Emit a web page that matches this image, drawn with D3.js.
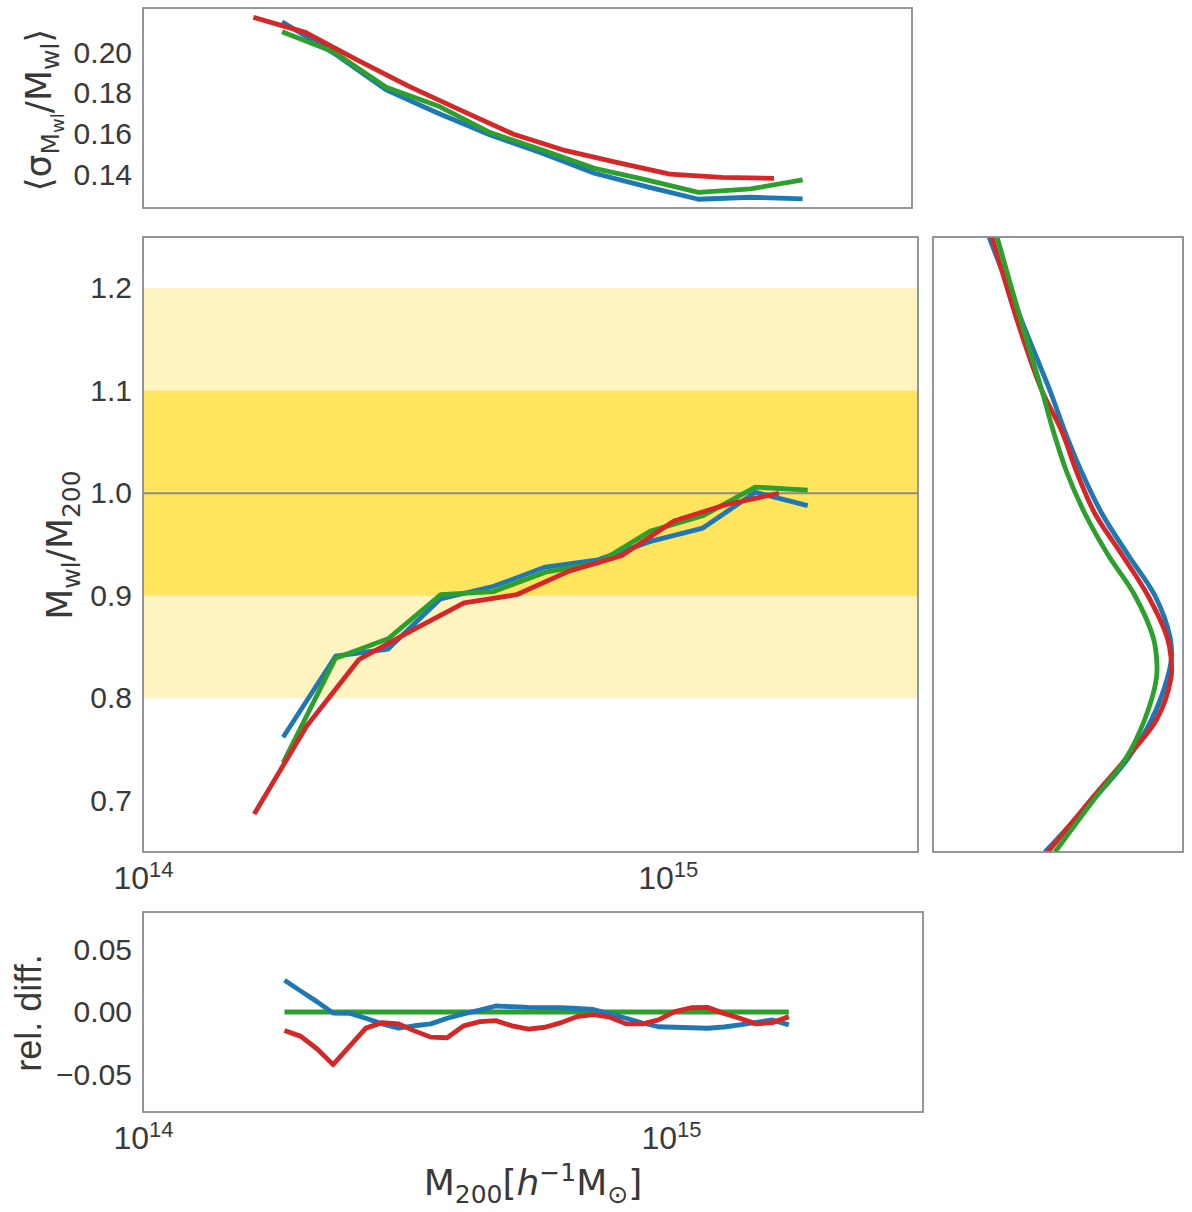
<!DOCTYPE html>
<html>
<head>
<meta charset="utf-8">
<script src="https://cdn.jsdelivr.net/npm/d3@7"></script>
<style>
  body { margin: 0; background: #fff; }
  text { fill: #393939; }
</style>
</head>
<body>
<svg id="chart" width="1192" height="1212"></svg>
<script>
// ---- data ----
// bin centres, log10(M200 / h^-1 Msun)
const logMBlueGreen = [14.267, 14.367, 14.467, 14.567, 14.667, 14.767, 14.867, 14.967, 15.067, 15.167, 15.267];
const logMRed       = [14.212, 14.312, 14.412, 14.512, 14.612, 14.712, 14.812, 14.912, 15.012, 15.112, 15.212];

// mean Mwl/M200
const ratioBlue  = [0.762, 0.841, 0.848, 0.897, 0.909, 0.928, 0.935, 0.953, 0.966, 1.001, 0.988];
const ratioGreen = [0.737, 0.839, 0.858, 0.901, 0.904, 0.923, 0.932, 0.963, 0.978, 1.006, 1.003];
const ratioRed   = [0.687, 0.773, 0.838, 0.866, 0.893, 0.901, 0.924, 0.939, 0.973, 0.989, 1.000];

// <sigma_Mwl / Mwl>
const scatBlue  = [0.2151, 0.1996, 0.1816, 0.1701, 0.1594, 0.1504, 0.1406, 0.1340, 0.1278, 0.1288, 0.1280];
const scatGreen = [0.2102, 0.2002, 0.1829, 0.1737, 0.1606, 0.1520, 0.1430, 0.1373, 0.1312, 0.1329, 0.1373];
const scatRed   = [0.2173, 0.2099, 0.1963, 0.1832, 0.1714, 0.1598, 0.1517, 0.1458, 0.1402, 0.1386, 0.1381];

// relative difference (w.r.t. green) on a finer grid
const logMRel = [14.268, 14.299, 14.330, 14.360, 14.391, 14.422, 14.453, 14.484, 14.514, 14.545,
                 14.576, 14.607, 14.638, 14.668, 14.699, 14.730, 14.761, 14.792, 14.822, 14.853,
                 14.884, 14.915, 14.946, 14.976, 15.007, 15.038, 15.069, 15.100, 15.130, 15.161,
                 15.192, 15.223];
const relBlue = [0.0254, 0.0167, 0.0081, -0.0008, -0.0010, -0.0050, -0.0095, -0.0129, -0.0110, -0.0095,
                 -0.0050, -0.0015, 0.0015, 0.0048, 0.0042, 0.0037, 0.0035, 0.0034, 0.0028, 0.0020,
                 -0.0015, -0.0050, -0.0088, -0.0118, -0.0122, -0.0126, -0.0130, -0.0120, -0.0103, -0.0083,
                 -0.0064, -0.0103];
const relRed  = [-0.0148, -0.0195, -0.0296, -0.0421, -0.0275, -0.0129, -0.0085, -0.0095, -0.0151, -0.0201,
                 -0.0206, -0.0111, -0.0077, -0.0069, -0.0111, -0.0137, -0.0122, -0.0085, -0.0037, -0.0021,
                 -0.0042, -0.0095, -0.0095, -0.0063, 0.0003, 0.0034, 0.0037, -0.0011, -0.0050, -0.0095,
                 -0.0085, -0.0037];
const relGreen = [0, 0, 0, 0, 0, 0, 0, 0, 0, 0, 0, 0, 0, 0, 0, 0,
                  0, 0, 0, 0, 0, 0, 0, 0, 0, 0, 0, 0, 0, 0, 0, 0];

// distribution of Mwl/M200 (side panel)
const kdeGrid  = [1.25, 1.16, 1.10, 1.06, 1.02, 0.98, 0.94, 0.90, 0.86, 0.84, 0.82, 0.78, 0.74, 0.70, 0.65];
const kdeBlue  = [1.12, 1.84, 2.34, 2.64, 2.98, 3.38, 3.90, 4.44, 4.74, 4.77, 4.69, 4.38, 3.88, 3.18, 2.24];
const kdeRed   = [1.18, 1.74, 2.18, 2.58, 2.88, 3.24, 3.78, 4.30, 4.68, 4.76, 4.76, 4.48, 3.84, 3.14, 2.30];
const kdeGreen = [1.28, 1.81, 2.18, 2.41, 2.68, 3.04, 3.50, 4.04, 4.40, 4.47, 4.47, 4.24, 3.84, 3.20, 2.44];

const mainTicks = [0.7, 0.8, 0.9, 1.0, 1.1, 1.2];
const scatTicks = [0.14, 0.16, 0.18, 0.20];
const relTicks  = [-0.05, 0, 0.05];
const massTicks = [1e14, 1e15];
const innerBand = [0.9, 1.1];
const outerBand = [0.8, 1.2];

const BLUE = "#1f77b4", GREEN = "#2ca02c", RED = "#d62728";
const SPINE = "#878b93";
const LW = 4.8;
const TICKFONT = "'Liberation Sans', Arial, sans-serif";
const MATHFONT = "'DejaVu Sans', sans-serif";

const svg = d3.select("#chart");

// panel boxes
const pTop  = {x0: 143, x1: 912,  y0: 8,   y1: 208};
const pMain = {x0: 143, x1: 918,  y0: 237, y1: 852};
const pSide = {x0: 933, x1: 1183, y0: 237, y1: 852};
const pBot  = {x0: 143, x1: 923,  y0: 912, y1: 1112};

const xTop  = d3.scaleLog().domain([1e14, 3e15]).range([pTop.x0, pTop.x1]);
const xMain = d3.scaleLog().domain([1e14, 3e15]).range([pMain.x0, pMain.x1]);
const xBot  = d3.scaleLog().domain([1e14, 3e15]).range([pBot.x0, pBot.x1]);
const yTop  = d3.scaleLinear().domain([0.1235, 0.2219]).range([pTop.y1, pTop.y0]);
const yMain = d3.scaleLinear().domain([0.65, 1.25]).range([pMain.y1, pMain.y0]);
const yBot  = d3.scaleLinear().domain([-0.08, 0.08]).range([pBot.y1, pBot.y0]);
const xSide = d3.scaleLinear().domain([0, 5]).range([pSide.x0, pSide.x1]);

function clip(id, b) {
  svg.append("clipPath").attr("id", id)
    .append("rect").attr("x", b.x0).attr("y", b.y0)
    .attr("width", b.x1 - b.x0).attr("height", b.y1 - b.y0);
}
clip("c-top", pTop); clip("c-main", pMain); clip("c-side", pSide); clip("c-bot", pBot);

function spine(b) {
  svg.append("rect").attr("x", b.x0).attr("y", b.y0)
    .attr("width", b.x1 - b.x0).attr("height", b.y1 - b.y0)
    .attr("fill", "none").attr("stroke", SPINE).attr("stroke-width", 1.8);
}

function yAxis(scale, b, ticks, fmt) {
  const g = svg.append("g").attr("transform", `translate(${b.x0},0)`)
    .call(d3.axisLeft(scale).tickValues(ticks).tickSize(0).tickPadding(11).tickFormat(fmt));
  g.select(".domain").remove();
  g.selectAll("text").style("font-family", TICKFONT).style("font-size", "30px").attr("fill", "#393939");
}

function xAxis(scale, b) {
  const g = svg.append("g").attr("transform", `translate(0,${b.y1})`)
    .call(d3.axisBottom(scale).tickValues(massTicks).tickSize(0).tickPadding(14).tickFormat(""));
  g.select(".domain").remove();
  g.selectAll("text")
    .style("font-family", TICKFONT).style("font-size", "32px").attr("fill", "#393939")
    .each(function(d) {
      const t = d3.select(this);
      t.append("tspan").text("10");
      t.append("tspan").attr("dy", -12).style("font-size", "22px").text(Math.round(Math.log10(d)));
    });
}

function line(xs, ys, xScale, yScale, color, clipId) {
  const pts = xs.map((v, i) => [v, ys[i]]);
  svg.append("path").datum(pts)
    .attr("clip-path", `url(#${clipId})`)
    .attr("fill", "none").attr("stroke", color).attr("stroke-width", LW)
    .attr("stroke-linejoin", "round")
    .attr("d", d3.line().x(d => xScale(Math.pow(10, d[0]))).y(d => yScale(d[1])));
}

// ---- top panel: scatter ----
line(logMBlueGreen, scatBlue, xTop, yTop, BLUE, "c-top");
line(logMBlueGreen, scatGreen, xTop, yTop, GREEN, "c-top");
line(logMRed, scatRed, xTop, yTop, RED, "c-top");
yAxis(yTop, pTop, scatTicks, d3.format(".2f"));
spine(pTop);

// ---- main panel ----
svg.append("rect").attr("x", pMain.x0).attr("width", pMain.x1 - pMain.x0)
  .attr("y", yMain(outerBand[1])).attr("height", yMain(outerBand[0]) - yMain(outerBand[1]))
  .attr("fill", "#fff3bf");
svg.append("rect").attr("x", pMain.x0).attr("width", pMain.x1 - pMain.x0)
  .attr("y", yMain(innerBand[1])).attr("height", yMain(innerBand[0]) - yMain(innerBand[1]))
  .attr("fill", "#ffe45e");
svg.append("line").attr("x1", pMain.x0).attr("x2", pMain.x1)
  .attr("y1", yMain(1)).attr("y2", yMain(1))
  .attr("stroke", "#8c8c8c").attr("stroke-width", 1.8);
line(logMBlueGreen, ratioBlue, xMain, yMain, BLUE, "c-main");
line(logMBlueGreen, ratioGreen, xMain, yMain, GREEN, "c-main");
line(logMRed, ratioRed, xMain, yMain, RED, "c-main");
yAxis(yMain, pMain, mainTicks, d3.format(".1f"));
xAxis(xMain, pMain);
spine(pMain);

// ---- side panel: distributions ----
[[kdeBlue, BLUE], [kdeRed, RED], [kdeGreen, GREEN]].forEach(([dens, color]) => {
  const pts = kdeGrid.map((v, i) => [dens[i], v]);
  svg.append("path").datum(pts)
    .attr("clip-path", "url(#c-side)")
    .attr("fill", "none").attr("stroke", color).attr("stroke-width", LW)
    .attr("d", d3.line().curve(d3.curveCatmullRom.alpha(0.5)).x(d => xSide(d[0])).y(d => yMain(d[1])));
});
spine(pSide);

// ---- bottom panel: relative difference ----
line(logMRel, relGreen, xBot, yBot, GREEN, "c-bot");
line(logMRel, relBlue, xBot, yBot, BLUE, "c-bot");
line(logMRel, relRed, xBot, yBot, RED, "c-bot");
yAxis(yBot, pBot, relTicks, d => d === 0 ? "0.00" : d3.format(".2f")(d).replace("-", "\u2212"));
xAxis(xBot, pBot);
spine(pBot);

// ---- axis labels ----
const LSIZE = 36, SUB = 25;
function mathLabel(x, y, rot, parts, family) {
  const t = svg.append("text")
    .attr("transform", `translate(${x},${y}) rotate(${rot})`)
    .attr("text-anchor", "middle")
    .style("font-family", family || MATHFONT).style("font-size", LSIZE + "px");
  let shift = 0;
  parts.forEach(p => {
    const s = t.append("tspan").text(p.t);
    const want = p.dy || 0;
    if (want !== shift) { s.attr("dy", want - shift); shift = want; }
    if (p.size) s.style("font-size", p.size + "px");
    if (p.italic) s.style("font-style", "italic");
  });
}

mathLabel(72, 545, -90, [
  {t: "M"}, {t: "wl", dy: 8, size: SUB}, {t: "/M"}, {t: "200", dy: 8, size: SUB}
]);
mathLabel(51, 110, -90, [
  {t: "\u27e8\u03c3"}, {t: "M", dy: 8, size: SUB}, {t: "wl", dy: 13, size: 18},
  {t: "/M"}, {t: "wl", dy: 8, size: SUB}, {t: "\u27e9"}
]);
mathLabel(41, 1013, -90, [{t: "rel. diff."}], TICKFONT);
mathLabel(533, 1195, 0, [
  {t: "M"}, {t: "200", dy: 8, size: SUB}, {t: "["}, {t: "h", italic: true},
  {t: "\u22121", dy: -14, size: SUB}, {t: "M"}, {t: "\u2299", dy: 8, size: SUB}, {t: "]"}
]);
</script>
</body>
</html>
